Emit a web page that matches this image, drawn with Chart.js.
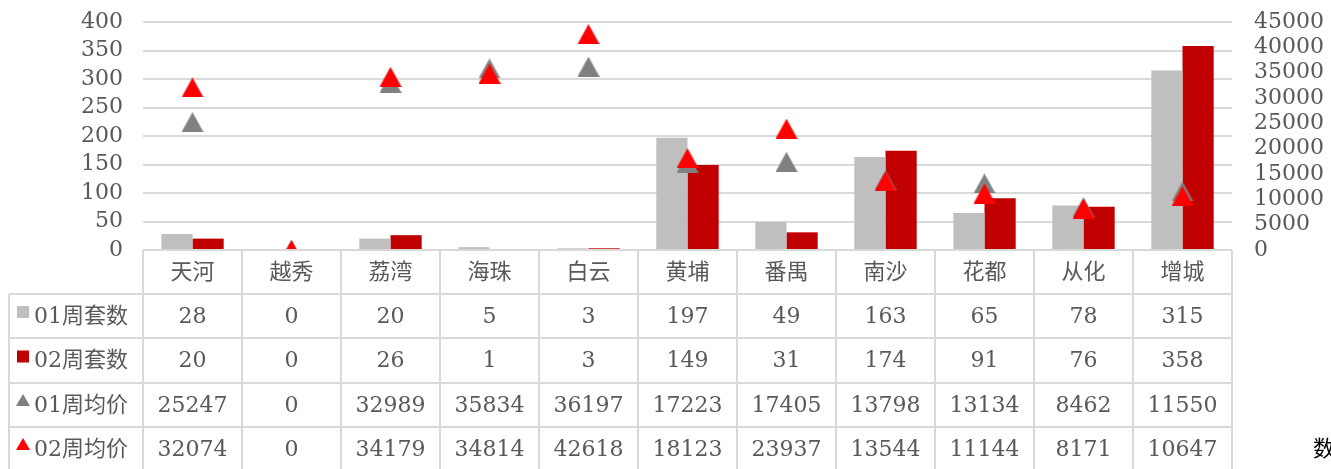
<!DOCTYPE html>
<html>
<head>
<meta charset="utf-8">
<script src="https://cdn.jsdelivr.net/npm/chart.js@4"></script>
<style>
  body { margin: 0; background: #fff; }
  canvas { display: block; }
</style>
</head>
<body>
<canvas id="weekChart" width="1331" height="469"></canvas>
<script>
var categories = ['天河', '越秀', '荔湾', '海珠', '白云', '黄埔', '番禺', '南沙', '花都', '从化', '增城'];
var units01 = [28, 0, 20, 5, 3, 197, 49, 163, 65, 78, 315];
var units02 = [20, 0, 26, 1, 3, 149, 31, 174, 91, 76, 358];
var price01 = [25247, 0, 32989, 35834, 36197, 17223, 17405, 13798, 13134, 8462, 11550];
var price02 = [32074, 0, 34179, 34814, 42618, 18123, 23937, 13544, 11144, 8171, 10647];
var seriesNames = ['01周套数', '02周套数', '01周均价', '02周均价'];

var textColor = '#595959';
var lineColor = '#D9D9D9';
var fontFamily = "'DejaVu Serif', 'Noto Sans CJK SC', serif";

// triangle marker centred on its box, like the spreadsheet markers
function triangle(color) {
    var c = document.createElement('canvas');
    c.width = 22;
    c.height = 20;
    var g = c.getContext('2d');
    g.fillStyle = color;
    g.beginPath();
    g.moveTo(11, 0);
    g.lineTo(22, 20);
    g.lineTo(0, 20);
    g.closePath();
    g.fill();
    return c;
}

// data table under the plot, columns follow the x scale
var tablePlugin = {
    id: 'dataTable',
    afterDraw: function (chart) {
        var ctx = chart.ctx;
        var area = chart.chartArea;
        var x = chart.scales.x;
        var n = categories.length;
        var colW = (area.right - area.left) / n;
        var rows = [units01, units02, price01, price02];
        var marks = ['#BFBFBF', '#C00000', '#808080', '#FF0000'];
        var top = area.bottom;
        var rowTop = [top, top + 44, top + 88, top + 133, top + 177, top + 221];
        var tableLeft = 9;

        ctx.save();
        ctx.strokeStyle = lineColor;
        ctx.lineWidth = 2;
        ctx.beginPath();
        ctx.moveTo(area.left, rowTop[0]);
        ctx.lineTo(area.right, rowTop[0]);
        for (var r = 1; r < rowTop.length; r++) {
            ctx.moveTo(tableLeft, rowTop[r]);
            ctx.lineTo(area.right, rowTop[r]);
        }
        ctx.moveTo(tableLeft, rowTop[1]);
        ctx.lineTo(tableLeft, rowTop[5]);
        for (var i = 0; i <= n; i++) {
            var bx = area.left + i * colW;
            ctx.moveTo(bx, rowTop[0]);
            ctx.lineTo(bx, rowTop[5]);
        }
        ctx.stroke();

        ctx.fillStyle = textColor;
        ctx.font = '22px ' + fontFamily;
        ctx.textAlign = 'center';
        ctx.textBaseline = 'middle';
        for (var c = 0; c < n; c++) {
            var cx = x.getPixelForValue(c);
            ctx.fillText(categories[c], cx, (rowTop[0] + rowTop[1]) / 2 + 1);
            for (var k = 0; k < rows.length; k++) {
                ctx.fillText(String(rows[k][c]), cx, (rowTop[k + 1] + rowTop[k + 2]) / 2 + 1);
            }
        }

        // legend keys in the first column
        ctx.textAlign = 'left';
        for (var s = 0; s < seriesNames.length; s++) {
            var cy = (rowTop[s + 1] + rowTop[s + 2]) / 2;
            ctx.fillStyle = marks[s];
            if (s < 2) {
                ctx.fillRect(17, cy - 10, 12, 12);
            } else {
                ctx.beginPath();
                ctx.moveTo(23, cy - 11);
                ctx.lineTo(30, cy + 1);
                ctx.lineTo(16, cy + 1);
                ctx.closePath();
                ctx.fill();
            }
            ctx.fillStyle = textColor;
            ctx.fillText(seriesNames[s], 34, cy + 1);
        }

        ctx.fillStyle = '#000';
        ctx.fillText('数', 1313, 450);
        ctx.restore();
    }
};

function noPad(scale, w) {
    scale.width = w;
    scale.paddingTop = 0;
    scale.paddingBottom = 0;
}

new Chart(document.getElementById('weekChart'), {
    type: 'bar',
    data: {
        labels: categories,
        datasets: [
            {
                type: 'line', label: seriesNames[3], data: price02, yAxisID: 'y1',
                showLine: false, pointStyle: triangle('#FF0000'), order: 0
            },
            {
                type: 'line', label: seriesNames[2], data: price01, yAxisID: 'y1',
                showLine: false, pointStyle: triangle('#808080'), order: 1
            },
            {
                label: seriesNames[0], data: units01, yAxisID: 'y',
                backgroundColor: '#BFBFBF', order: 2
            },
            {
                label: seriesNames[1], data: units02, yAxisID: 'y',
                backgroundColor: '#C00000', order: 2
            }
        ]
    },
    options: {
        responsive: false,
        animation: false,
        layout: { padding: { top: 22, bottom: 219, left: 0, right: 0 } },
        datasets: { bar: { categoryPercentage: 0.63, barPercentage: 1 } },
        plugins: { legend: { display: false }, tooltip: { enabled: false } },
        scales: {
            x: {
                ticks: { display: false },
                grid: { display: false },
                border: { display: false },
                afterFit: function (scale) { scale.height = 0; }
            },
            y: {
                position: 'left',
                min: 0, max: 400,
                ticks: {
                    stepSize: 50, autoSkip: false, color: textColor, padding: 20,
                    font: { size: 22, family: fontFamily }
                },
                grid: { color: lineColor, lineWidth: 2, drawTicks: false },
                border: { display: false },
                afterFit: function (scale) { noPad(scale, 143); }
            },
            y1: {
                position: 'right',
                min: 0, max: 45000,
                ticks: {
                    stepSize: 5000, autoSkip: false, color: textColor, padding: 22,
                    font: { size: 22, family: fontFamily },
                    callback: function (v) { return String(v); }
                },
                grid: { drawOnChartArea: false, drawTicks: false },
                border: { display: false },
                afterFit: function (scale) { noPad(scale, 99); }
            }
        }
    },
    plugins: [tablePlugin]
});
</script>
</body>
</html>
